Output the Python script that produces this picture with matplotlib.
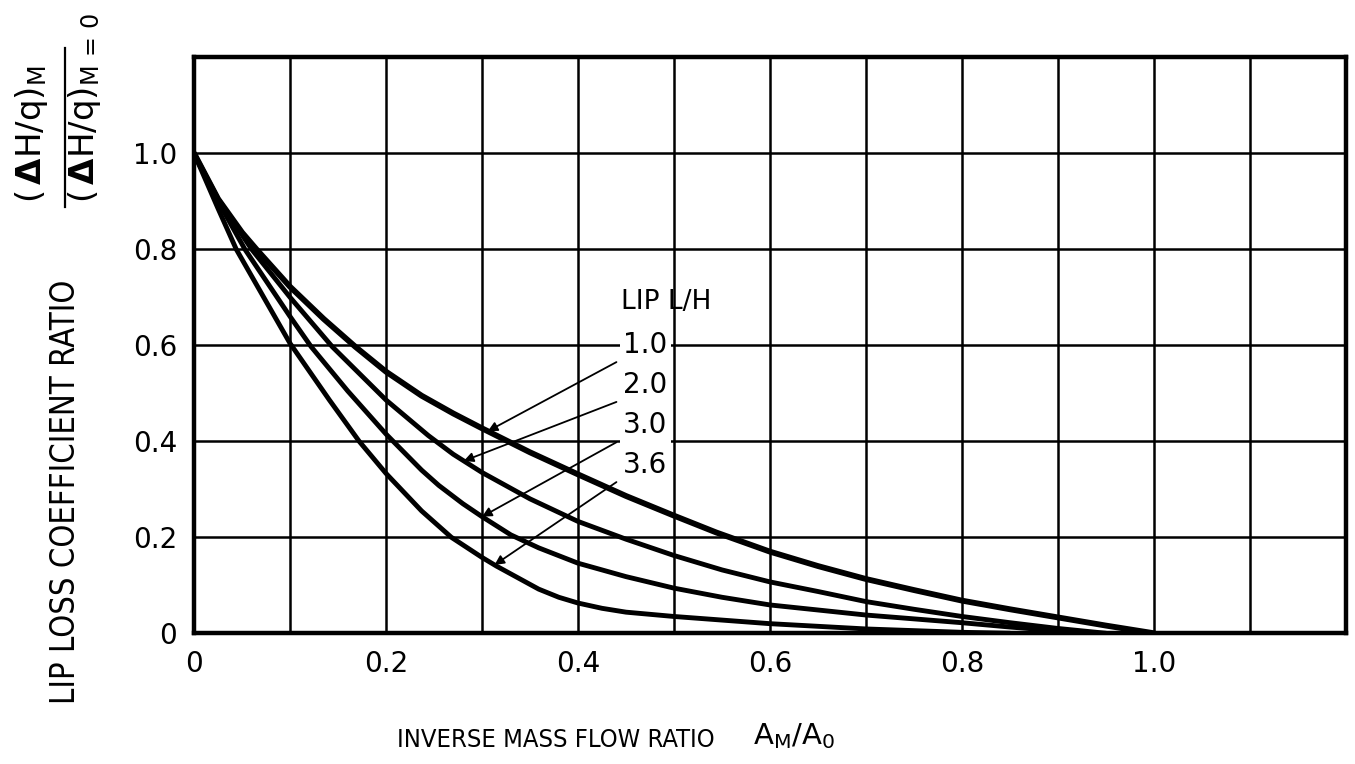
import matplotlib
matplotlib.use("Agg")
import matplotlib.pyplot as plt
from matplotlib.lines import Line2D
import numpy as np

# curve values (x = A_M/A_0, y = lip loss coefficient ratio)
lh_labels = ["1.0", "2.0", "3.0", "3.6"]

x_10 = [0, 0.025, 0.05, 0.065, 0.1, 0.135, 0.168, 0.2, 0.237, 0.27, 0.3, 0.35, 0.4, 0.45,
        0.5, 0.544, 0.6, 0.65, 0.7, 0.75, 0.8, 0.85, 0.9, 0.95, 1.0]
y_10 = [1.0, 0.905, 0.835, 0.80, 0.722, 0.655, 0.597, 0.545, 0.495, 0.458, 0.427, 0.377, 0.331, 0.286,
        0.245, 0.21, 0.17, 0.14, 0.113, 0.09, 0.068, 0.05, 0.033, 0.016, 0.0]

x_20 = [0, 0.025, 0.06, 0.1, 0.144, 0.2, 0.244, 0.27, 0.3, 0.35, 0.4, 0.45, 0.5, 0.55,
        0.6, 0.65, 0.7, 0.75, 0.8, 0.85, 0.9, 0.95]
y_20 = [1.0, 0.905, 0.80, 0.70, 0.597, 0.486, 0.412, 0.373, 0.335, 0.28, 0.233, 0.196, 0.162, 0.132,
        0.107, 0.087, 0.066, 0.05, 0.035, 0.022, 0.01, 0.0]

x_30 = [0, 0.025, 0.053, 0.1, 0.122, 0.16, 0.2, 0.237, 0.255, 0.28, 0.3, 0.33, 0.359, 0.4, 0.45,
        0.5, 0.55, 0.6, 0.7, 0.8, 0.85, 0.9, 0.93]
y_30 = [1.0, 0.90, 0.80, 0.66, 0.597, 0.505, 0.415, 0.34, 0.308, 0.27, 0.243, 0.205, 0.178, 0.146, 0.118,
        0.094, 0.075, 0.059, 0.038, 0.022, 0.013, 0.005, 0.0]

x_36 = [0, 0.025, 0.044, 0.1, 0.141, 0.172, 0.2, 0.237, 0.268, 0.3, 0.315, 0.359, 0.38, 0.4, 0.425,
        0.45, 0.5, 0.6, 0.7, 0.8, 0.85]
y_36 = [1.0, 0.885, 0.80, 0.604, 0.486, 0.40, 0.333, 0.255, 0.20, 0.158, 0.14, 0.092, 0.075, 0.063, 0.052,
        0.044, 0.035, 0.02, 0.009, 0.002, 0.0]

# x where each leader arrow touches its curve
arrow_x = [0.306, 0.281, 0.30, 0.313]

xs = [x_10, x_20, x_30, x_36]
ys = [y_10, y_20, y_30, y_36]

fig = plt.figure(figsize=(13.55, 7.64), dpi=100)
ax = fig.add_axes([0.1432, 0.1711, 0.8502, 0.7539])

ax.set_xlim(0, 1.2)
ax.set_ylim(0, 1.2)

ax.set_xticks(np.arange(0, 1.21, 0.1))
ax.set_xticklabels(["0", "", "0.2", "", "0.4", "", "0.6", "", "0.8", "", "1.0", "", ""])
ax.set_yticks(np.arange(0, 1.21, 0.2))
ax.set_yticklabels(["0", "0.2", "0.4", "0.6", "0.8", "1.0", ""])
ax.tick_params(length=0, labelsize=20, pad=12)
ax.grid(True, color="black", lw=1.8)
ax.set_axisbelow(True)
for s in ax.spines.values():
    s.set_linewidth(3.2)

lws = [4.2, 3.5, 3.5, 3.5]
for xx, yy, lw in zip(xs, ys, lws):
    ax.plot(xx, yy, color="black", lw=lw, solid_capstyle="round",
            solid_joinstyle="round", zorder=3)

# labels block
ax.text(0.445, 0.69, "LIP L/H", fontsize=19, va="center", ha="left", zorder=5)
label_y = [0.60, 0.517, 0.433, 0.35]
for i, lab in enumerate(lh_labels):
    ax.text(0.447, label_y[i], lab, fontsize=20, va="center", ha="left", zorder=5,
            bbox=dict(facecolor="white", edgecolor="none", pad=2.5))
    tx = arrow_x[i]
    ty = np.interp(tx, xs[i], ys[i])
    ax.annotate("", xy=(tx, ty), xytext=(0.44, label_y[i] - 0.035),
                arrowprops=dict(arrowstyle="-|>", lw=1.3, color="black",
                                mutation_scale=14, shrinkA=0, shrinkB=0),
                zorder=4)

fig.text(0.0487, 0.356, "LIP LOSS COEFFICIENT RATIO", rotation=90, fontsize=23.5,
         ha="center", va="center", fontstretch="condensed")

# stacked ratio label, top left
fig.text(0.0229, 0.734, r"$(\,\mathbf{\Delta}\mathrm{H/q})_{\mathrm{M}}$",
         rotation=90, fontsize=24.5, ha="center", va="bottom")
fig.text(0.0627, 0.734, r"$(\,\mathbf{\Delta}\mathrm{H/q})_{\mathrm{M\,=\,0}}$",
         rotation=90, fontsize=24.5, ha="center", va="bottom")
fig.add_artist(Line2D([0.048, 0.048], [0.729, 0.937], color="black", lw=1.6))

fig.text(0.410, 0.031, "INVERSE MASS FLOW RATIO", fontsize=18.3, ha="center", va="center",
         fontstretch="condensed")
fig.text(0.586, 0.036, r"$\mathrm{A_M/A_0}$", fontsize=21, ha="center", va="center")

fig.savefig("out.png", dpi=100)
